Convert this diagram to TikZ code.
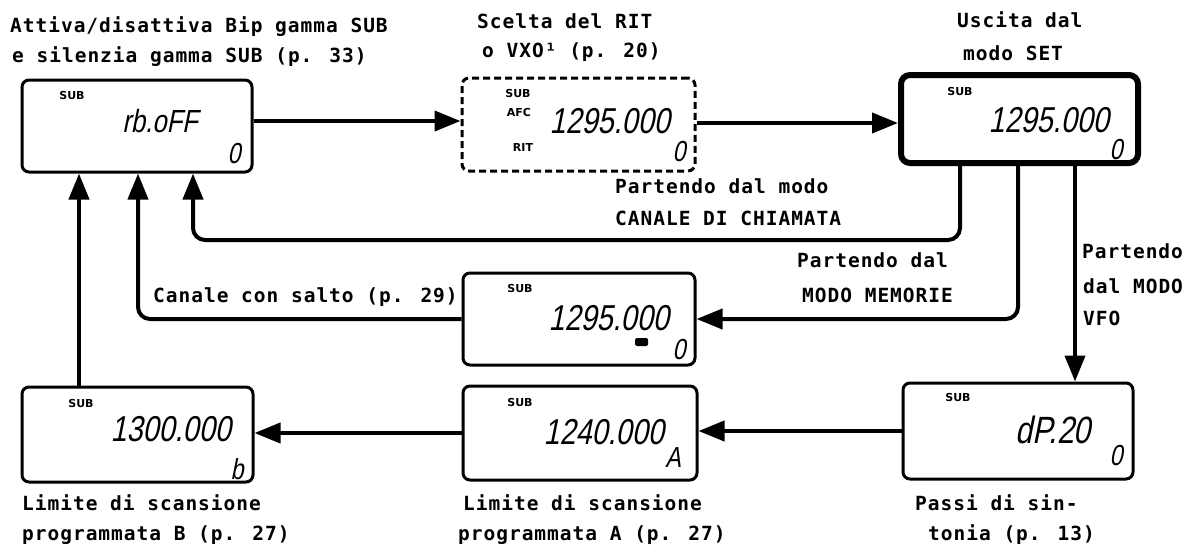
\documentclass[tikz,border=0pt]{standalone}
\usepackage{fontspec}
\usetikzlibrary{arrows.meta}
\newfontfamily\lblfont[LetterSpace=5]{DejaVu Sans Mono}
\newfontfamily\lcdfont[FakeSlant=0.2,FakeStretch=0.8]{Liberation Sans}
\newfontfamily\tagfont{DejaVu Sans}
\begin{document}
\begin{tikzpicture}[x=1pt,y=-1pt,
  lcdbox/.style={draw, line width=3pt, rounded corners=7pt, inner sep=0pt, minimum width=#1},
  lcdbox/.default=230pt,
  setbox/.style={draw, line width=6pt, rounded corners=9pt, inner sep=0pt},
  ritbox/.style={draw, line width=3pt, rounded corners=7pt, inner sep=0pt, dash pattern=on 7pt off 4pt},
  flow/.style={line width=4pt, rounded corners=12pt, -{Triangle[length=26pt,width=20pt]}},
  lbl/.style={anchor=base west, inner sep=0pt, font=\lblfont\bfseries\fontsize{19.5}{20}\selectfont},
  big/.style={anchor=east, inner sep=0pt, font=\lcdfont\fontsize{36}{36}\selectfont},
  small/.style={anchor=center, inner sep=0pt, font=\lcdfont\fontsize{29}{29}\selectfont},
  tag/.style={anchor=center, inner sep=0pt, font=\tagfont\bfseries\fontsize{11}{11}\selectfont}]
\useasboundingbox (0,0) rectangle (1201,547);

% boxes
\node[lcdbox=230pt, minimum height=92pt] (b1) at (137,126) {};
\node[ritbox, minimum width=233pt, minimum height=93pt] (b2) at (578.5,124.5) {};
\node[setbox, minimum width=237pt, minimum height=88pt] (b3) at (1019.5,119) {};
\node[lcdbox=232pt, minimum height=92pt] (b4) at (579,319) {};
\node[lcdbox=230pt, minimum height=96pt] (b5) at (1018,431) {};
\node[lcdbox=234pt, minimum height=94pt] (b6) at (580,433) {};
\node[lcdbox=231pt, minimum height=95pt] (b7) at (137.5,434.5) {};

% box contents
\node[tag] (t1) at (72,95) {SUB};
\node[big, font=\lcdfont\fontsize{32}{32}\selectfont] (d1) at (198,121) {rb.oFF};
\node[small] (c1) at (234,154) {0};

\node[tag] (t2) at (518,93) {SUB};
\node[tag] (afc) at (519,112) {AFC};
\node[tag] (rit) at (523,147) {RIT};
\node[big] (d2) at (670,121) {1295.000};
\node[small] (c2) at (679,152) {0};

\node[tag] (t3) at (960,91) {SUB};
\node[big] (d3) at (1109,120) {1295.000};
\node[small] (c3) at (1116,150) {0};

\node[tag] (t4) at (520,288) {SUB};
\node[big] (d4) at (669,318) {1295.000};
\node[fill, minimum width=13pt, minimum height=8pt, inner sep=0pt, rounded corners=1.5pt] (mem) at (641.5,342) {};
\node[small] (c4) at (679,350) {0};

\node[tag] (t5) at (958,397) {SUB};
\node[big, font=\lcdfont\fontsize{38}{38}\selectfont] (d5) at (1091,430) {dP.20};
\node[small] (c5) at (1116,456) {0};

\node[tag] (t6) at (520,402) {SUB};
\node[big] (d6) at (664,432) {1240.000};
\node[small] (c6) at (673,458) {A};

\node[tag] (t7) at (81,403) {SUB};
\node[big] (d7) at (231,429) {1300.000};
\node[small] (c7) at (237,469) {b};

% connectors
\draw[flow] ([yshift=5pt]b1.east) -- ([yshift=5pt]b1.east -| b2.west);
\draw[flow] ([yshift=1.5pt]b2.east) -- ([yshift=1.5pt]b2.east -| b3.west);
\draw[flow] ([xshift=-59.5pt]b3.south) |- (193,240) -- ([xshift=56pt]b1.south);
\draw[flow] ([xshift=-1.5pt]b3.south) |- (b4.east);
\draw[flow] ([xshift=55.5pt]b3.south) -- ([xshift=55.5pt]b3.south |- b5.north);
\draw[flow] (b4.west) -| ([xshift=1pt]b1.south);
\draw[flow] ([xshift=-58.5pt]b7.north) -- ([xshift=-58.5pt]b7.north |- b1.south);
\draw[flow] (b5.west) -- (b5.west -| b6.east);
\draw[flow] (b6.west) -- (b6.west -| b7.east);

% labels
\node[lbl] (l1a) at (10,32) {Attiva/disattiva Bip gamma SUB};
\node[lbl] (l1b) at (12,62) {e silenzia gamma SUB (p. 33)};
\node[lbl] (l2a) at (477,28) {Scelta del RIT};
\node[lbl] (l2b) at (482,57) {o VXO¹ (p. 20)};
\node[lbl] (l3a) at (957,27) {Uscita dal};
\node[lbl] (l3b) at (963,60) {modo SET};
\node[lbl] (l4a) at (615,193) {Partendo dal modo};
\node[lbl] (l4b) at (615,225) {CANALE DI CHIAMATA};
\node[lbl] (l5a) at (797,267) {Partendo dal};
\node[lbl] (l5b) at (802,302) {MODO MEMORIE};
\node[lbl] (l6a) at (1082,258) {Partendo};
\node[lbl] (l6b) at (1083,293) {dal MODO};
\node[lbl] (l6c) at (1083,325) {VFO};
\node[lbl] (l7) at (153,302) {Canale con salto (p. 29)};
\node[lbl] (l8a) at (22,510) {Limite di scansione};
\node[lbl] (l8b) at (22,540) {programmata B (p. 27)};
\node[lbl] (l9a) at (463,510) {Limite di scansione};
\node[lbl] (l9b) at (458,540) {programmata A (p. 27)};
\node[lbl] (l10a) at (915,510) {Passi di sin-};
\node[lbl] (l10b) at (928,540) {tonia (p. 13)};
\end{tikzpicture}
\end{document}
